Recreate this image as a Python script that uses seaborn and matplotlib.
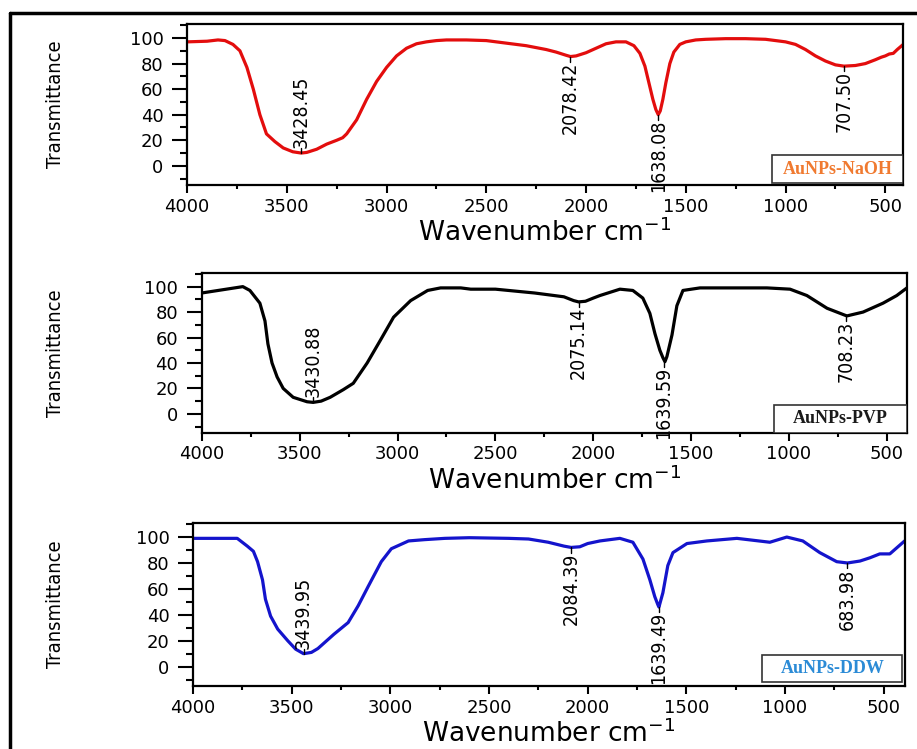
import pandas as pd
import matplotlib
matplotlib.use('Agg')
import matplotlib.pyplot as plt
from matplotlib.ticker import MultipleLocator
from matplotlib.lines import Line2D
from matplotlib.patches import Rectangle
import seaborn as sns

# ---------------------------
# Data
# ---------------------------
naoh_wn = [4000, 3900, 3845, 3810, 3770, 3735, 3700, 3668, 3635, 3602, 3560, 3518, 3470,
           3428, 3400, 3350, 3300, 3250, 3220, 3200, 3150, 3100, 3050, 3000, 2950, 2900,
           2850, 2800, 2750, 2700, 2600, 2500, 2400, 2300, 2200, 2150, 2100, 2078, 2050,
           2000, 1950, 1900, 1850, 1800, 1760, 1730, 1705, 1685, 1665, 1650, 1638, 1628,
           1615, 1600, 1580, 1560, 1530, 1500, 1450, 1400, 1300, 1200, 1100, 1000, 950,
           900, 850, 800, 750, 707, 650, 600, 550, 520, 500, 480, 460, 440, 410]
naoh_t = [97, 97.5, 98.5, 98, 95, 90, 77, 60, 40, 25, 19, 14, 11,
          10, 10.5, 13, 17, 20, 22, 25, 36, 52, 66, 77, 86, 92,
          95.5, 97, 98, 98.5, 98.5, 98, 96, 94, 91, 89, 86.5, 85.5, 86,
          88.5, 92, 95.5, 97, 97, 94, 88, 78, 65, 52, 44, 40, 43,
          52, 65, 80, 89, 95, 97, 98.5, 99, 99.5, 99.5, 99, 97, 95,
          91, 86, 82, 79, 78, 78.5, 80, 83, 85, 86, 87.5, 88, 91, 95]

pvp_wn = [4000, 3790, 3754, 3703, 3677, 3662, 3641, 3615, 3584, 3533, 3462, 3431, 3390,
          3344, 3277, 3226, 3155, 3087, 3020, 2933, 2846, 2780, 2677, 2626, 2500, 2300,
          2150, 2100, 2075, 2040, 2000, 1966, 1864, 1798, 1747, 1711, 1685, 1660, 1644,
          1634, 1624, 1598, 1573, 1542, 1455, 1300, 1113, 995, 909, 806, 714, 704, 622,
          520, 450, 398]
pvp_t = [95, 100, 97, 87, 73, 55, 40, 29, 20, 13, 9.5, 9, 10,
         13, 19, 24, 40, 58, 76, 89, 97, 99, 99, 98, 98, 95,
         92, 89, 88, 88.5, 91, 93, 98, 97, 91, 79, 63, 50, 44,
         41, 45, 62, 85, 97, 99, 99, 99, 98, 93, 83, 77.5, 77, 80,
         87, 93, 99]

ddw_wn = [4000, 3776, 3725, 3694, 3673, 3648, 3633, 3607, 3571, 3520, 3480, 3440, 3400,
          3367, 3286, 3214, 3163, 3112, 3046, 2995, 2908, 2827, 2724, 2600, 2400, 2300,
          2200, 2120, 2084, 2040, 2000, 1938, 1837, 1771, 1720, 1685, 1660, 1645, 1639,
          1619, 1594, 1568, 1497, 1396, 1244, 1077, 991, 910, 824, 738, 684, 620, 570,
          520, 469, 394]
ddw_t = [99, 99, 93, 89, 81, 67, 52, 39, 29, 20, 13.5, 10, 11,
         14, 25, 34, 47, 62, 81, 91, 97, 98, 99, 99.5, 99, 98.5,
         96, 93, 92, 92.5, 95, 97, 99, 96, 83, 67, 54, 48, 46,
         57, 78, 88, 95, 97, 99, 96, 100, 97, 88, 81, 80, 81.5, 84,
         87, 87, 97]

samples = ['AuNPs-NaOH', 'AuNPs-PVP', 'AuNPs-DDW']
line_colors = ['#e30d0d', '#000000', '#1414cc']
tag_colors = ['#f07a30', '#1a1a1a', '#2b8bd6']

naoh_peaks = [(3428.45, 10, 'up'), (2078.42, 85.5, 'down'), (1638.08, 40, 'down'), (707.50, 78, 'down')]
pvp_peaks = [(3430.88, 9, 'up'), (2075.14, 88, 'down'), (1639.59, 41, 'down'), (708.23, 77, 'down')]
ddw_peaks = [(3439.95, 10, 'up'), (2084.39, 92, 'down'), (1639.49, 46, 'down'), (683.98, 80, 'down')]

spectra = [(naoh_wn, naoh_t, naoh_peaks), (pvp_wn, pvp_t, pvp_peaks), (ddw_wn, ddw_t, ddw_peaks)]

# axes rectangles (figure fraction) and right x-limit per panel
axes_rects = [[0.204, 0.753, 0.781, 0.215],
              [0.220, 0.422, 0.769, 0.214],
              [0.2105, 0.084, 0.776, 0.218]]
xlim_right = [410, 398, 394]
tag_boxes = [(0.817, 0.012, 0.183, 0.174),
             (0.811, 0.0, 0.189, 0.175),
             (0.800, 0.025, 0.197, 0.165)]

sns.set_style('ticks')
plt.rcParams['font.family'] = ['DejaVu Sans']
plt.rcParams['text.color'] = 'black'
plt.rcParams['axes.labelcolor'] = 'black'
plt.rcParams['xtick.color'] = 'black'
plt.rcParams['ytick.color'] = 'black'

fig = plt.figure(figsize=(9.17, 7.49), dpi=100)

for i, (wn, tr, peaks) in enumerate(spectra):
    ax = fig.add_axes(axes_rects[i])
    df = pd.DataFrame({'Wavenumber': wn, 'Transmittance': tr})
    sns.lineplot(data=df, x='Wavenumber', y='Transmittance', color=line_colors[i],
                 lw=2.3, sort=False, estimator=None, ax=ax)

    ax.set_xlim(4000, xlim_right[i])
    ax.set_ylim(-15, 111)
    ax.set_xticks(list(range(4000, 499, -500)))
    ax.xaxis.set_minor_locator(MultipleLocator(250))
    ax.set_yticks(list(range(0, 101, 20)))
    ax.yaxis.set_minor_locator(MultipleLocator(10))

    for s in ax.spines.values():
        s.set_linewidth(1.6)
        s.set_color('black')
    ax.tick_params(axis='y', which='major', length=11, width=1.5, labelsize=13, pad=6)
    ax.tick_params(axis='y', which='minor', length=5, width=1.5)
    ax.tick_params(axis='x', which='major', length=6, width=1.5, labelsize=13, pad=3)
    ax.tick_params(axis='x', which='minor', length=3, width=1.5)

    ax.set_xlabel('Wavenumber cm$^{-1}$', fontsize=19, labelpad=2)
    ax.set_ylabel('Transmittance', fontsize=14.5, fontstretch='condensed')
    left_px = axes_rects[i][0] * 917
    width_px = axes_rects[i][2] * 917
    ax.yaxis.set_label_coords((65 - left_px) / width_px, 0.5)

    # peak labels with short leader lines
    for pos, val, side in peaks:
        if side == 'up':
            ax.plot([pos, pos], [val, val + 4], color='black', lw=1)
            ax.text(pos, val + 4, f'{pos:.2f}', rotation=90, ha='center', va='bottom',
                    fontsize=14, fontstretch='condensed')
        else:
            ax.plot([pos, pos], [val, val - 4], color='black', lw=1)
            ax.text(pos, val - 4, f'{pos:.2f}', rotation=90, ha='center', va='top',
                    fontsize=14, fontstretch='condensed')

    # sample tag box
    bx, by, bw, bh = tag_boxes[i]
    ax.add_patch(Rectangle((bx, by), bw, bh, transform=ax.transAxes, fill=True,
                           facecolor='white', edgecolor='#333333', lw=1.2, zorder=5))
    ax.text(bx + bw / 2, by + bh / 2, samples[i], transform=ax.transAxes, ha='center',
            va='center', fontsize=13, fontweight='bold', color=tag_colors[i],
            family=['Liberation Serif', 'DejaVu Serif'], zorder=6)

# outer frame (left and top edges visible)
fig.add_artist(Line2D([10 / 917, 10 / 917], [0, 1 - 13 / 749], color='black', lw=2.5,
                      transform=fig.transFigure))
fig.add_artist(Line2D([10 / 917, 1], [1 - 13 / 749, 1 - 13 / 749], color='black', lw=2.5,
                      transform=fig.transFigure))

fig.savefig('out.png', dpi=100)
